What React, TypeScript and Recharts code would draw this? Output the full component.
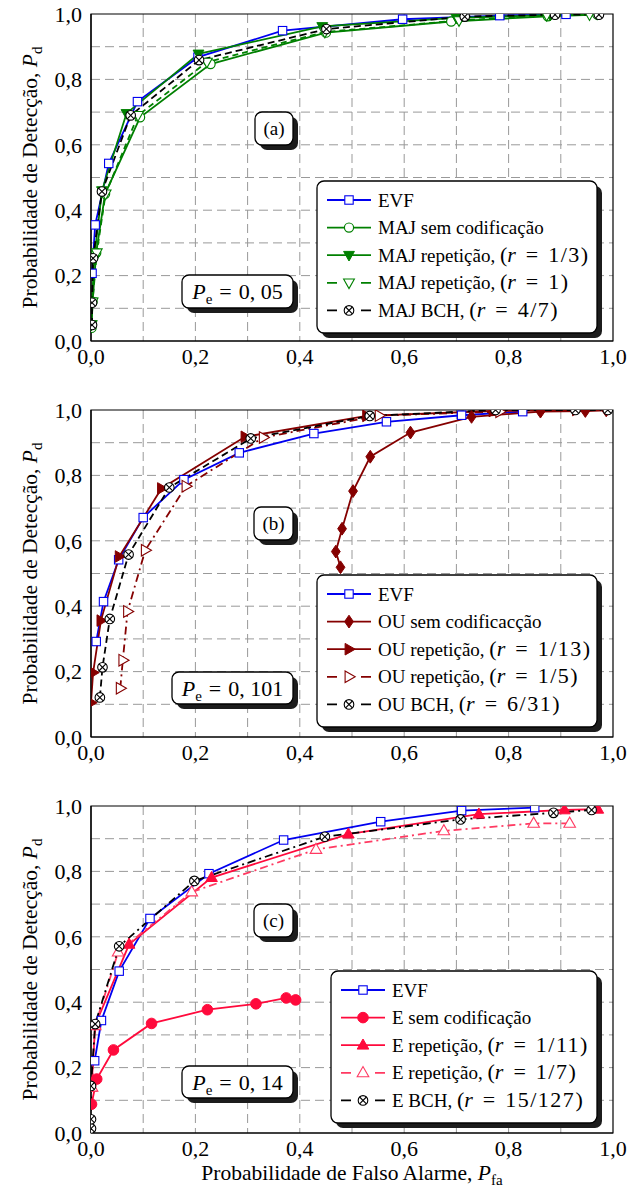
import React from 'react';
import { LineChart, Line, XAxis, YAxis, CartesianGrid, ReferenceArea } from 'recharts';

const FONT = '"Liberation Serif", "Times New Roman", serif';

// ---- axes ----
const axisTicks = [0, 0.2, 0.4, 0.6, 0.8, 1.0];
const tickLabels = ['0,0', '0,2', '0,4', '0,6', '0,8', '1,0'];
const gridValues = [0.1, 0.2, 0.3, 0.4, 0.5, 0.6, 0.7, 0.8, 0.9];

// ---- colours ----
const BLUE = '#0000f0';
const GREEN = '#008000';
const DRED = '#850000';
const RED = '#ff0a3c';
const PINK = '#ff3a62';
const BLACK = '#000000';

// ---- panel (a) ----
const evfA_x = [0.002, 0.008, 0.034, 0.089, 0.205, 0.367, 0.597, 0.783, 0.91];
const evfA_y = [0.207, 0.355, 0.543, 0.732, 0.868, 0.949, 0.984, 0.995, 0.999];
const majSem_x = [0.001, 0.003, 0.01, 0.027, 0.094, 0.229, 0.45, 0.69, 0.875, 0.97];
const majSem_y = [0.04, 0.12, 0.27, 0.45, 0.684, 0.847, 0.943, 0.977, 0.993, 0.998];
const majR13_x = [0.001, 0.002, 0.006, 0.021, 0.068, 0.206, 0.443, 0.7, 0.88, 0.97];
const majR13_y = [0.05, 0.12, 0.25, 0.46, 0.696, 0.878, 0.962, 0.988, 0.997, 0.999];
const majR1_x = [0.001, 0.003, 0.011, 0.028, 0.09, 0.222, 0.448, 0.705, 0.873, 0.955];
const majR1_y = [0.05, 0.12, 0.27, 0.45, 0.69, 0.853, 0.945, 0.98, 0.996, 0.998];
const bchA_x = [0.002, 0.002, 0.004, 0.021, 0.076, 0.207, 0.451, 0.716, 0.889, 0.973];
const bchA_y = [0.049, 0.117, 0.253, 0.457, 0.69, 0.859, 0.954, 0.992, 0.998, 0.998];

// ---- panel (b) ----
const evfB_x = [0.01, 0.024, 0.053, 0.1, 0.178, 0.284, 0.427, 0.566, 0.71, 0.827];
const evfB_y = [0.292, 0.414, 0.542, 0.671, 0.787, 0.869, 0.928, 0.964, 0.984, 0.995];
const ouSem_x = [0.478, 0.469, 0.481, 0.502, 0.535, 0.612, 0.729, 0.861, 0.947, 0.987];
const ouSem_y = [0.519, 0.567, 0.637, 0.752, 0.857, 0.931, 0.979, 0.995, 0.997, 0.999];
const ouR13_x = [0.0, 0.004, 0.019, 0.054, 0.135, 0.295, 0.528, 0.77, 0.93];
const ouR13_y = [0.105, 0.197, 0.356, 0.552, 0.76, 0.918, 0.982, 0.997, 1.0];
const ouR15_x = [0.056, 0.061, 0.07, 0.104, 0.182, 0.33, 0.552, 0.783];
const ouR15_y = [0.149, 0.235, 0.384, 0.571, 0.767, 0.916, 0.983, 0.995];
const bchB_x = [0.017, 0.022, 0.036, 0.072, 0.15, 0.306, 0.534, 0.775, 0.928, 0.99];
const bchB_y = [0.121, 0.213, 0.361, 0.558, 0.763, 0.913, 0.982, 1.0, 1.0, 1.0];

// ---- panel (c) ----
const evfC_x = [0.007, 0.02, 0.054, 0.113, 0.226, 0.369, 0.555, 0.71, 0.85];
const evfC_y = [0.221, 0.344, 0.495, 0.656, 0.793, 0.896, 0.952, 0.986, 0.995];
const eSem_x = [0.001, 0.011, 0.043, 0.116, 0.223, 0.316, 0.374, 0.392];
const eSem_y = [0.088, 0.165, 0.254, 0.335, 0.377, 0.395, 0.413, 0.407];
const eR11_x = [0.001, 0.008, 0.073, 0.231, 0.493, 0.743, 0.907, 0.971];
const eR11_y = [0.14, 0.33, 0.577, 0.781, 0.914, 0.975, 0.988, 0.99];
const eR17_x = [0.002, 0.008, 0.052, 0.193, 0.431, 0.676, 0.848, 0.917];
const eR17_y = [0.14, 0.328, 0.553, 0.737, 0.867, 0.924, 0.947, 0.947];
const bchC_x = [0.0, 0.0, 0.0, 0.008, 0.054, 0.198, 0.448, 0.708, 0.886, 0.959];
const bchC_y = [0.014, 0.042, 0.144, 0.333, 0.571, 0.771, 0.906, 0.959, 0.979, 0.988];

type Kind =
  | 'square' | 'circleOpen' | 'circleFilled' | 'triDownFilled' | 'triDownOpen'
  | 'triUpFilled' | 'triUpOpen' | 'triRightFilled' | 'triRightOpen' | 'diamond' | 'otimes';

type Series = {
  name: string;
  xs: number[];
  ys: number[];
  color: string;
  dash?: string;
  kind: Kind;
  label: React.ReactNode;
};

function drawMarker(kind: Kind, color: string, cx: number, cy: number, key?: React.Key) {
  const pts = (a: number[][]) => a.map((p) => `${cx + p[0]},${cy + p[1]}`).join(' ');
  switch (kind) {
    case 'square':
      return <rect key={key} x={cx - 4.2} y={cy - 4.2} width={8.4} height={8.4} fill="#fff" stroke={color} strokeWidth={1.1} />;
    case 'circleOpen':
      return <circle key={key} cx={cx} cy={cy} r={4.6} fill="#fff" stroke={color} strokeWidth={1.2} />;
    case 'circleFilled':
      return <circle key={key} cx={cx} cy={cy} r={5.3} fill={color} stroke={color} strokeWidth={1} />;
    case 'triDownFilled':
      return <polygon key={key} points={pts([[-5.4, -3.8], [5.4, -3.8], [0, 5.8]])} fill={color} stroke={color} strokeWidth={1} />;
    case 'triDownOpen':
      return <polygon key={key} points={pts([[-5.4, -3.8], [5.4, -3.8], [0, 5.8]])} fill="#fff" stroke={color} strokeWidth={1.1} />;
    case 'triUpFilled':
      return <polygon key={key} points={pts([[-5.8, 3.9], [5.8, 3.9], [0, -6.2]])} fill={color} stroke={color} strokeWidth={1} />;
    case 'triUpOpen':
      return <polygon key={key} points={pts([[-5.8, 3.9], [5.8, 3.9], [0, -6.2]])} fill="#fff" stroke={color} strokeWidth={1.1} />;
    case 'triRightFilled':
      return <polygon key={key} points={pts([[-3.9, -5.8], [6.2, 0], [-3.9, 5.8]])} fill={color} stroke={color} strokeWidth={1} />;
    case 'triRightOpen':
      return <polygon key={key} points={pts([[-3.9, -5.8], [6.2, 0], [-3.9, 5.8]])} fill="#fff" stroke={color} strokeWidth={1.1} />;
    case 'diamond':
      return <polygon key={key} points={pts([[0, -6.4], [4.4, 0], [0, 6.4], [-4.4, 0]])} fill={color} stroke={color} strokeWidth={1} />;
    case 'otimes':
    default: {
      const d = 3.4;
      return (
        <g key={key}>
          <circle cx={cx} cy={cy} r={4.8} fill="#fff" stroke="#000" strokeWidth={1.1} />
          <line x1={cx - d} y1={cy - d} x2={cx + d} y2={cy + d} stroke="#000" strokeWidth={1.1} />
          <line x1={cx - d} y1={cy + d} x2={cx + d} y2={cy - d} stroke="#000" strokeWidth={1.1} />
        </g>
      );
    }
  }
}

// math-like "(r = value)" with wider spacing, like the LaTeX original
const rPart = (prefix: string, val: string) => (
  <>
    {prefix}
    <tspan fontSize={22}>(</tspan>
    <tspan fontSize={22} fontStyle="italic">r</tspan>
    <tspan fontSize={22} dx={10}>=</tspan>
    <tspan fontSize={22} dx={10} letterSpacing={1.5}>{val}</tspan>
    <tspan fontSize={22}>)</tspan>
  </>
);

const seriesA: Series[] = [
  { name: 'evfA', xs: evfA_x, ys: evfA_y, color: BLUE, kind: 'square', label: 'EVF' },
  { name: 'majSem', xs: majSem_x, ys: majSem_y, color: GREEN, kind: 'circleOpen', label: 'MAJ sem codificação' },
  { name: 'majR13', xs: majR13_x, ys: majR13_y, color: GREEN, kind: 'triDownFilled', label: rPart('MAJ repetição, ', '1/3') },
  { name: 'majR1', xs: majR1_x, ys: majR1_y, color: GREEN, dash: '6 4', kind: 'triDownOpen', label: rPart('MAJ repetição, ', '1') },
  { name: 'bchA', xs: bchA_x, ys: bchA_y, color: BLACK, dash: '7 4', kind: 'otimes', label: rPart('MAJ BCH, ', '4/7') },
];
const seriesB: Series[] = [
  { name: 'evfB', xs: evfB_x, ys: evfB_y, color: BLUE, kind: 'square', label: 'EVF' },
  { name: 'ouSem', xs: ouSem_x, ys: ouSem_y, color: DRED, kind: 'diamond', label: 'OU sem codificacção' },
  { name: 'ouR13', xs: ouR13_x, ys: ouR13_y, color: DRED, kind: 'triRightFilled', label: rPart('OU repetição, ', '1/13') },
  { name: 'ouR15', xs: ouR15_x, ys: ouR15_y, color: DRED, dash: '8 4 2 4', kind: 'triRightOpen', label: rPart('OU repetição, ', '1/5') },
  { name: 'bchB', xs: bchB_x, ys: bchB_y, color: BLACK, dash: '7 4', kind: 'otimes', label: rPart('OU BCH, ', '6/31') },
];
const seriesC: Series[] = [
  { name: 'evfC', xs: evfC_x, ys: evfC_y, color: BLUE, kind: 'square', label: 'EVF' },
  { name: 'eSem', xs: eSem_x, ys: eSem_y, color: RED, kind: 'circleFilled', label: 'E sem codificação' },
  { name: 'eR11', xs: eR11_x, ys: eR11_y, color: RED, kind: 'triUpFilled', label: rPart('E repetição, ', '1/11') },
  { name: 'eR17', xs: eR17_x, ys: eR17_y, color: PINK, dash: '8 4 2 4', kind: 'triUpOpen', label: rPart('E repetição, ', '1/7') },
  { name: 'bchC', xs: bchC_x, ys: bchC_y, color: BLACK, dash: '8 4 2 4', kind: 'otimes', label: rPart('E BCH, ', '15/127') },
];

const fmt = (v: number) => tickLabels[Math.round(v * 5)] ?? String(v);
const toPts = (s: Series) => s.xs.map((x, i) => ({ x, y: s.ys[i] }));

const tickStyle = { fontFamily: FONT, fontSize: 22, fill: '#000' };

function Panel({ series, top }: { series: Series[]; top: number }) {
  return (
    <div style={{ position: 'absolute', left: 0, top, width: 643, height: 396 }}>
      <LineChart width={643} height={396} margin={{ top: 14, right: 30, bottom: 15, left: 31 }}>
        <CartesianGrid
          stroke="#999999"
          strokeWidth={1}
          strokeDasharray="9 5"
          horizontalValues={gridValues}
          verticalValues={gridValues}
        />
        <XAxis
          type="number"
          dataKey="x"
          domain={[0, 1]}
          ticks={axisTicks}
          tickFormatter={fmt}
          allowDataOverflow
          height={40}
          tickSize={0}
          tickMargin={7}
          axisLine={{ stroke: '#000', strokeWidth: 1.2 }}
          tick={tickStyle}
        />
        <YAxis
          type="number"
          domain={[0, 1]}
          ticks={axisTicks}
          tickFormatter={fmt}
          allowDataOverflow
          width={60}
          tickSize={0}
          tickMargin={9}
          axisLine={{ stroke: '#000', strokeWidth: 1.2 }}
          tick={tickStyle}
        />
        <ReferenceArea x1={0} x2={1} y1={0} y2={1} fill="none" fillOpacity={0} stroke="#000" strokeWidth={1.2} ifOverflow="visible" />
        {series.map((s) => (
          <Line
            key={s.name}
            data={toPts(s)}
            dataKey="y"
            type="linear"
            stroke={s.color}
            strokeWidth={1.8}
            strokeDasharray={s.dash}
            isAnimationActive={false}
            dot={(p: any) => drawMarker(s.kind, s.color, p.cx, p.cy, `${s.name}-${p.index}`)}
            activeDot={false}
          />
        ))}
      </LineChart>
    </div>
  );
}

function ShadowBox({ x, y, w, h }: { x: number; y: number; w: number; h: number }) {
  return (
    <g>
      <rect x={x + 5} y={y + 5} width={w} height={h} rx={7} fill="#1c1c1c" />
      <rect x={x} y={y} width={w} height={h} rx={7} fill="#fff" stroke="#000" strokeWidth={1.3} />
    </g>
  );
}

function LegendBox({ x, y, w, h, sx1, sx2, tx, series }: { x: number; y: number; w: number; h: number; sx1: number; sx2: number; tx: number; series: Series[] }) {
  return (
    <g>
      <ShadowBox x={x} y={y} w={w} h={h} />
      {series.map((s, i) => {
        const ry = y + 19 + 27.6 * i;
        const cx = (sx1 + sx2) / 2;
        return (
          <g key={s.name}>
            <line x1={sx1} y1={ry} x2={sx2} y2={ry} stroke={s.color} strokeWidth={1.8} strokeDasharray={s.dash ? '10 24' : undefined} />
            {drawMarker(s.kind, s.color, cx, ry)}
            <text x={tx} y={ry + 6.5} fontFamily={FONT} fontSize={19} fill="#000">
              {s.label}
            </text>
          </g>
        );
      })}
    </g>
  );
}

function TagBox({ x, y, w, h, text }: { x: number; y: number; w: number; h: number; text: string }) {
  return (
    <g>
      <ShadowBox x={x} y={y} w={w} h={h} />
      <text x={x + w / 2} y={y + h / 2 + 6.5} textAnchor="middle" fontFamily={FONT} fontSize={19} fill="#000">
        {text}
      </text>
    </g>
  );
}

function PeBox({ x, y, w, h, val }: { x: number; y: number; w: number; h: number; val: string }) {
  return (
    <g>
      <ShadowBox x={x} y={y} w={w} h={h} />
      <text x={x + w / 2} y={y + h / 2 + 7.5} textAnchor="middle" fontFamily={FONT} fontSize={22} fill="#000">
        <tspan fontStyle="italic">P</tspan>
        <tspan dy={5} fontSize={15}>e</tspan>
        <tspan dy={-5} dx={7}>=</tspan>
        <tspan dx={7}>{val}</tspan>
      </text>
    </g>
  );
}

function YLabel({ cy }: { cy: number }) {
  return (
    <text x={0} y={0} transform={`translate(37,${cy}) rotate(-90)`} textAnchor="middle" fontFamily={FONT} fontSize={21.5} fill="#000">
      Probabilidade de Detecção, <tspan fontStyle="italic">P</tspan>
      <tspan dy={5} fontSize={15}>d</tspan>
    </text>
  );
}

const panelTops = [0, 396, 792];

export default function App() {
  return (
    <div style={{ position: 'absolute', left: 0, top: 0, width: 643, height: 1194, background: '#fff', overflow: 'hidden' }}>
      <Panel series={seriesA} top={panelTops[0]} />
      <Panel series={seriesB} top={panelTops[1]} />
      <Panel series={seriesC} top={panelTops[2]} />
      <svg
        width={643}
        height={1194}
        style={{ position: 'absolute', left: 0, top: 0, pointerEvents: 'none', zIndex: 10 }}
      >
        <YLabel cy={177.5} />
        <YLabel cy={573.5} />
        <YLabel cy={969.5} />
        <text x={352} y={1180} textAnchor="middle" fontFamily={FONT} fontSize={21.5} fill="#000">
          Probabilidade de Falso Alarme, <tspan fontStyle="italic">P</tspan>
          <tspan dy={5} fontSize={15}>fa</tspan>
        </text>

        <TagBox x={255} y={112} w={38} h={33} text="(a)" />
        <PeBox x={182} y={275} w={111} h={33} val="0, 05" />
        <LegendBox x={317} y={181} w={280} h={152} sx1={327} sx2={371} tx={378} series={seriesA} />

        <TagBox x={254} y={507} w={39} h={33} text="(b)" />
        <PeBox x={172} y={672} w={121} h={32} val="0, 101" />
        <LegendBox x={317} y={575} w={280} h={152} sx1={327} sx2={371} tx={378} series={seriesB} />

        <TagBox x={254} y={904} w={39} h={33} text="(c)" />
        <PeBox x={182} y={1066} w={111} h={32} val="0, 14" />
        <LegendBox x={331} y={971} w={266} h={152} sx1={341} sx2={385} tx={392} series={seriesC} />
      </svg>
    </div>
  );
}
